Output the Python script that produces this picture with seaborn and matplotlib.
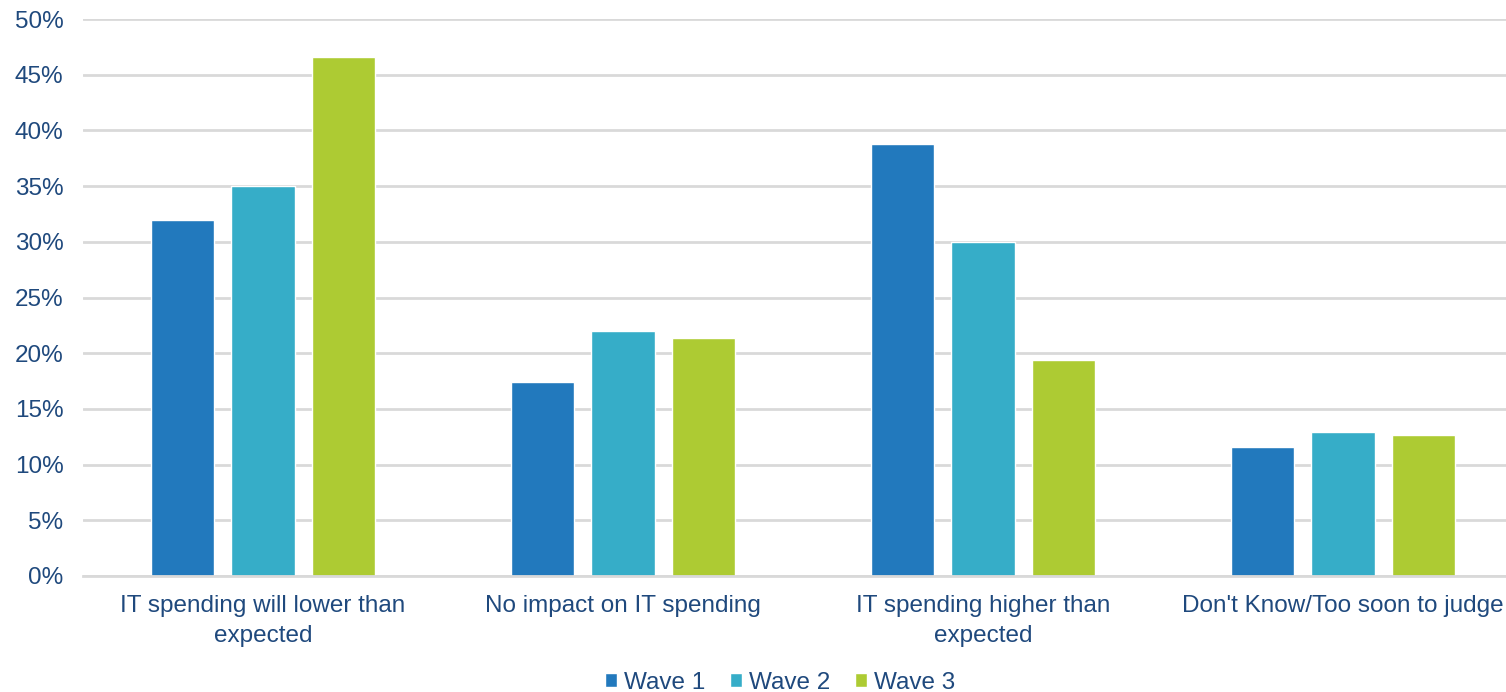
import matplotlib
matplotlib.use("Agg")
import matplotlib.pyplot as plt
import seaborn as sns
import pandas as pd
from matplotlib.ticker import FuncFormatter, MultipleLocator

categories = ["IT spending will lower than\nexpected", "No impact on IT spending",
              "IT spending higher than\nexpected", "Don't Know/Too soon to judge"]
waves = ["Wave 1", "Wave 2", "Wave 3"]
wave1 = [32.0, 17.4, 38.8, 11.6]
wave2 = [35.0, 22.0, 30.0, 12.9]
wave3 = [46.6, 21.4, 19.4, 12.7]
colors = ["#2279BD", "#36ADC8", "#ADCB33"]

rows = []
for w, vals in zip(waves, [wave1, wave2, wave3]):
    for c, v in zip(categories, vals):
        rows.append({"category": c, "wave": w, "value": v})
df = pd.DataFrame(rows)

sns.set_theme(style="white")
plt.rcParams["font.family"] = ["Liberation Sans", "DejaVu Sans"]
text_color = "#1F497D"
fs = 17.5

fig = plt.figure(figsize=(15.06, 6.92), dpi=100)
ax = fig.add_axes([83 / 1506, 116 / 692, 1 - 83 / 1506, (576 - 19) / 692])

sns.barplot(data=df, x="category", y="value", hue="wave", order=categories,
            hue_order=waves, palette=colors, width=0.667, gap=0.2125,
            saturation=1, ax=ax, legend=True)

ax.set_ylim(0, 50)
ax.set_xlim(-0.5, 3.5 - 17 / 360)
ax.yaxis.set_major_locator(MultipleLocator(5))
ax.yaxis.set_major_formatter(FuncFormatter(lambda v, p: f"{v:.0f}%"))
ax.grid(axis="y", color="#D9D9D9", linewidth=2)
ax.set_axisbelow(True)
for s in ["top", "right", "left"]:
    ax.spines[s].set_visible(False)
ax.spines["bottom"].set_color("#D9D9D9")
ax.spines["bottom"].set_linewidth(2)
ax.tick_params(axis="y", length=0, pad=14, labelsize=fs, labelcolor=text_color)
ax.tick_params(axis="x", length=0, pad=14, labelsize=fs, labelcolor=text_color)
for lbl in ax.get_xticklabels():
    lbl.set_linespacing(1.45)
ax.set_xlabel("")
ax.set_ylabel("")

handles, labels = ax.get_legend_handles_labels()
ax.get_legend().remove()
fig.legend(handles, labels, loc="center", bbox_to_anchor=(0.518, 9 / 692),
           ncol=3, frameon=False, fontsize=fs, labelcolor=text_color,
           handlelength=0.5, handleheight=0.5, handletextpad=0.3, columnspacing=1.0)

fig.savefig("out.png", dpi=100)
